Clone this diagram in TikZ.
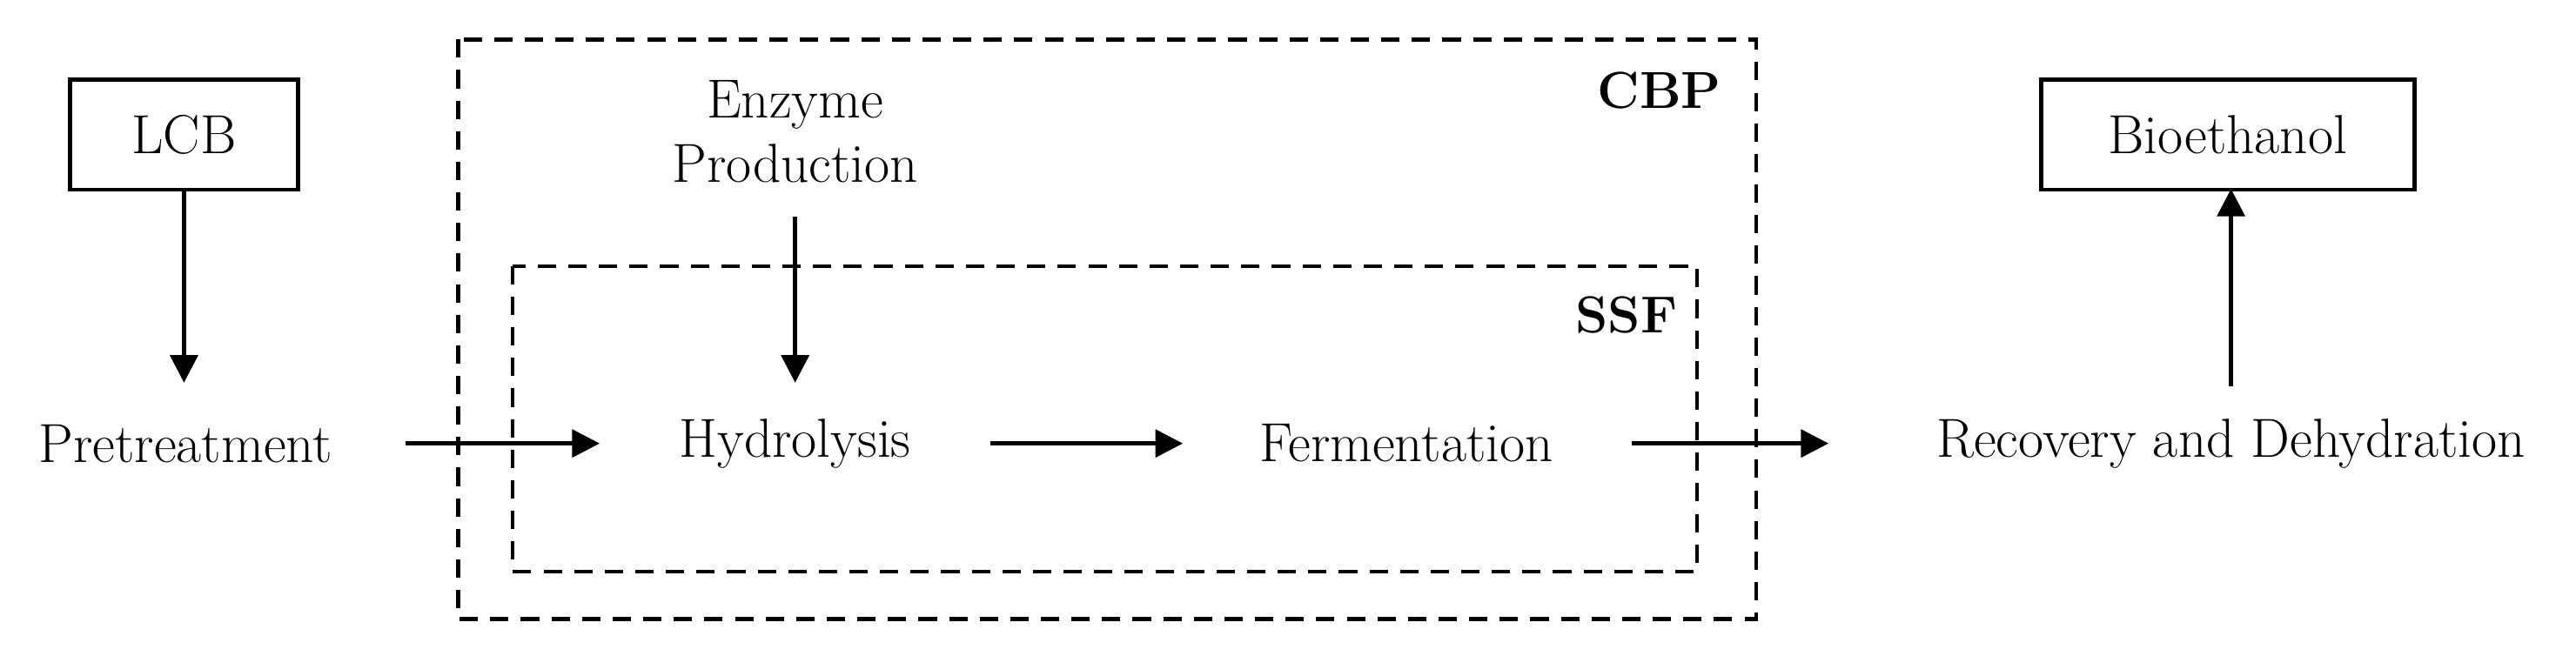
\documentclass[tikz,border=0pt]{standalone}
\usetikzlibrary{arrows.meta}
\begin{document}
\begin{tikzpicture}[x=0.01888cm,y=-0.01888cm,
  lbl/.style={font=\fontsize{18}{21}\selectfont,align=center},
  bx/.style={draw,line width=1.3pt,minimum width=#1,minimum height=1.26cm,font=\fontsize{18}{21}\selectfont},
  arr/.style={line width=1.3pt,-{Triangle[length=9pt,width=9pt]}},
  dsh/.style={line width=1.3pt,dash pattern=on 6pt off 4pt}]
\useasboundingbox (0,0) rectangle (1568,399);
\draw[dsh] (279,24) rectangle (1069,377);
\draw[dsh] (312,162) rectangle (1033,348);
\node[lbl,font=\fontsize{17}{20}\selectfont\bfseries] (cbp) at (1010,55) {CBP};
\node[lbl,font=\fontsize{17}{20}\selectfont\bfseries] (ssf) at (990,192) {SSF};
\node[bx=2.62cm] (lcb) at (112,82) {LCB};
\node[bx=4.29cm] (bio) at (1356,82) {Bioethanol};
\node[lbl] (pre) at (113,270) {Pretreatment};
\node[lbl] (hyd) at (484,270) {Hydrolysis};
\node[lbl] (fer) at (856,270) {Fermentation};
\node[lbl] (rec) at (1358,270) {Recovery and Dehydration};
\node[lbl] (enz) at (484,80) {Enzyme\\Production};
\coordinate (a1) at (112,233);
\draw[arr] (lcb.south) -- (a1);
\coordinate (p1) at (247,270); \coordinate (p2) at (365,270);
\draw[arr] (p1) -- (p2);
\coordinate (h1) at (603,270); \coordinate (h2) at (720,270);
\draw[arr] (h1) -- (h2);
\coordinate (f1) at (993,270); \coordinate (f2) at (1113,270);
\draw[arr] (f1) -- (f2);
\coordinate (r1) at (1358,235);
\draw[arr] (r1) -- (1358,115);
\coordinate (e1) at (484,132); \coordinate (e2) at (484,233);
\draw[arr] (e1) -- (e2);
\end{tikzpicture}
\end{document}
